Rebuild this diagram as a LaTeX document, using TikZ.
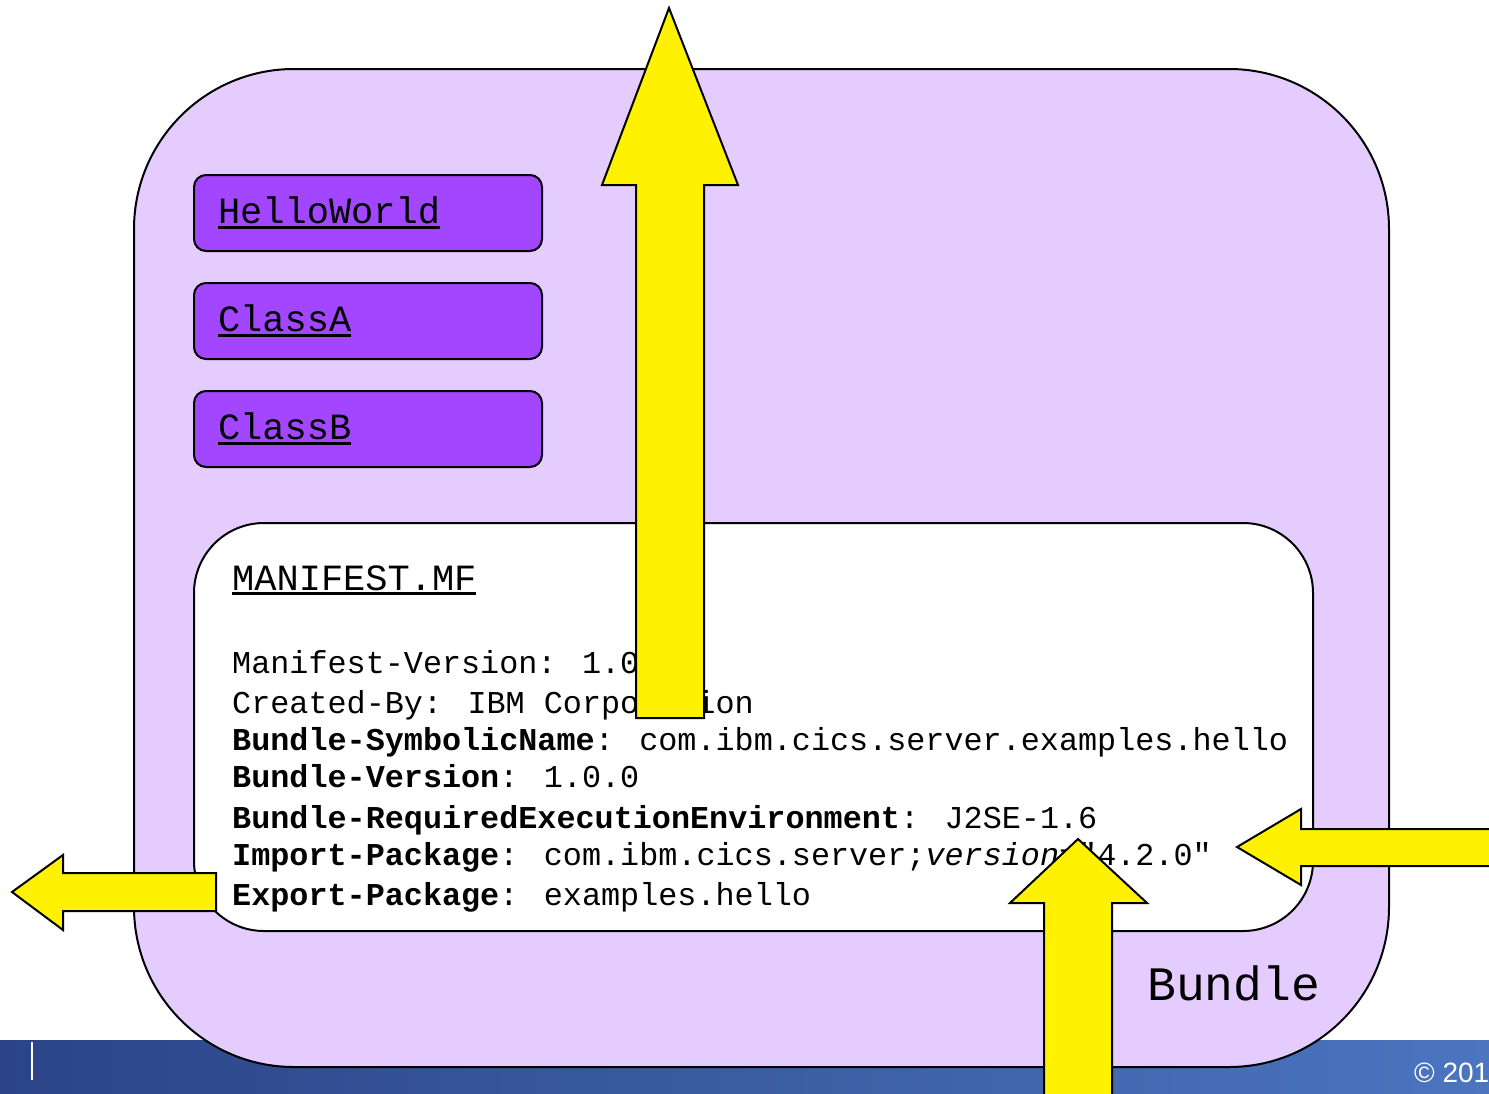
\documentclass[tikz,border=0pt]{standalone}
\usepackage{fontspec}
\setmainfont{Liberation Sans}
\newfontfamily\codefont{Liberation Mono}
\usepackage{tikz}
\usetikzlibrary{positioning}
\usetikzlibrary{calc}

\definecolor{bundlefill}{HTML}{E5CCFF}
\definecolor{classfill}{HTML}{A346FF}
\definecolor{barleft}{HTML}{2B4488}
\definecolor{barmid}{HTML}{3A5AA2}
\definecolor{barright}{HTML}{4B75BF}

% 粗下划线
\newcommand{\ulined}[1]{\setbox0=\hbox{#1}\rlap{\rule[-5pt]{\wd0}{3pt}}\box0}

\begin{document}
\begin{tikzpicture}[x=1pt,y=-1pt,
		bundlebox/.style={draw=black,line width=2pt,fill=bundlefill,rounded corners=160pt,anchor=north west,inner sep=0pt},
		classbox/.style={draw=black,line width=2pt,fill=classfill,rounded corners=12pt,anchor=north west,
			minimum width=348pt,minimum height=76pt,text width=300pt,inner xsep=24pt,inner ysep=0pt,align=left,
			font=\codefont\fontsize{37}{40}\selectfont},
		mfbox/.style={draw=black,line width=2pt,fill=white,rounded corners=70pt,anchor=north west,inner sep=0pt},
		codeline/.style={anchor=base west,inner sep=0pt,font=\codefont\fontsize{31.8}{36}\selectfont},
		bigarrow/.style={draw=black,line width=2pt,fill=yellow,line join=miter}]
			
			% 画布大小
			\useasboundingbox (0,0) rectangle (1489,1093);
			\clip (0,0) rectangle (1489,1093);
			
			% 底部的蓝色条
			\shade[left color=barleft,middle color=barmid,right color=barright] (0,1040) rectangle (1489,1093);
			\draw[white,line width=2pt] (32,1042) -- (32,1080);
			\node[anchor=base west,inner sep=0pt,text=white,font=\fontsize{28}{30}\selectfont] (copy) at (1414,1082) {© 2011};
			
			% 绘制 Bundle 大框
			\node[bundlebox,minimum width=1255pt,minimum height=998pt] (bundle) at (133,68) {};
			
			% 三个类
			\node[classbox] (hello) at (193,174) {\ulined{HelloWorld}};
			\node[classbox,below=30pt of hello] (classA) {\ulined{ClassA}};
			\node[classbox,below=30pt of classA] (classB) {\ulined{ClassB}};
			
			% MANIFEST.MF 框
			\node[mfbox,minimum width=1119pt,minimum height=408pt] (manifest) at (193,522) {};
			\node[anchor=base west,inner sep=0pt,font=\codefont\fontsize{37}{40}\selectfont] (mftitle) at (232,590) {\ulined{MANIFEST.MF}};
			
			% 清单的各行
			\node[codeline] (mfver) at (232,673) {Manifest-Version: 1.0};
			\node[codeline] (created) at (232,713) {Created-By: IBM Corporation};
			\node[codeline] (symname) at (232,750) {\textbf{Bundle-SymbolicName}: com.ibm.cics.server.examples.hello};
			\node[codeline] (bver) at (232,787) {\textbf{Bundle-Version}: 1.0.0};
			\node[codeline] (reqenv) at (232,828) {\textbf{Bundle-RequiredExecutionEnvironment}: J2SE-1.6};
			\node[codeline] (import) at (232,865) {\textbf{Import-Package}: com.ibm.cics.server;\textit{version=}"4.2.0"};
			\node[codeline] (export) at (232,905) {\textbf{Export-Package}: examples.hello};
			
			% Bundle 标签
			\node[anchor=base west,inner sep=0pt,font=\codefont\fontsize{48}{50}\selectfont] (bundlelabel) at (1147,1000) {Bundle};
			
			% 黄色箭头
			\draw[bigarrow] (636,718) -- (636,185) -- (602,185) -- (669,8) -- (738,185) -- (704,185) -- (704,718) -- cycle;
			\draw[bigarrow] (1044,1110) -- (1044,903) -- (1010,903) -- (1078,839) -- (1147,903) -- (1112,903) -- (1112,1110) -- cycle;
			\draw[bigarrow] (1500,829) -- (1301,829) -- (1301,809) -- (1237,847) -- (1301,885) -- (1301,866) -- (1500,866) -- cycle;
			\draw[bigarrow] (216,873) -- (63,873) -- (63,855) -- (12,892) -- (63,930) -- (63,911) -- (216,911) -- cycle;
			
		\end{tikzpicture}
\end{document}
